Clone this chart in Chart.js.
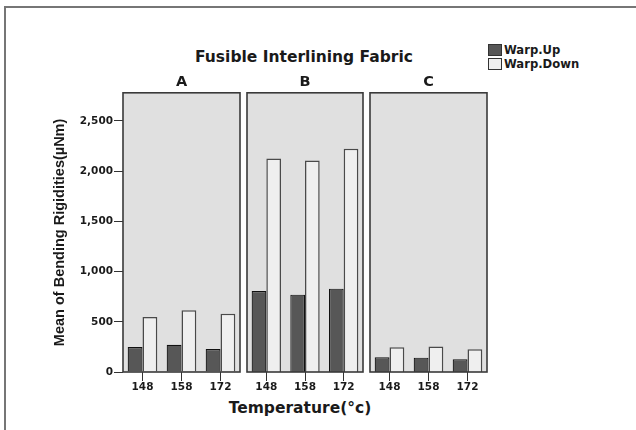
<!DOCTYPE html>
<html><head><meta charset="utf-8">
<script src="https://cdn.jsdelivr.net/npm/chart.js@4.4.0/dist/chart.umd.min.js"></script>
<style>
html,body{margin:0;padding:0;background:#fff;}
body{width:636px;height:430px;position:relative;overflow:hidden;}
.frame{position:absolute;left:4px;top:6px;width:700px;height:500px;border-top:2px solid #767676;border-left:2px solid #767676;}
canvas{position:absolute;top:0;}
.txt{position:absolute;font-family:"DejaVu Sans";font-weight:bold;color:#1a1a1a;white-space:nowrap;}
#title{left:104px;width:400px;top:47px;height:20px;line-height:20px;text-align:center;font-size:15.5px;}
#xtitle{left:100px;width:400px;top:398px;height:20px;line-height:20px;text-align:center;font-size:15.5px;}
.lg{position:absolute;left:488px;width:12px;height:10px;border:1px solid #333;}
.lgt{left:504px;font-size:11.6px;height:14px;line-height:14px;}
</style>
</head><body>
<div class="frame"></div>
<div id="title" class="txt">Fusible Interlining Fabric</div>
<div id="xtitle" class="txt">Temperature(°c)</div>
<div class="lg" style="top:44px;background:#575757;"></div>
<div class="lgt txt" style="top:43px;">Warp.Up</div>
<div class="lg" style="top:58px;background:#efefef;"></div>
<div class="lgt txt" style="top:57px;">Warp.Down</div>
<canvas id="cA" width="241" height="430" style="left:1px"></canvas>
<canvas id="cB" width="122" height="430" style="left:244px"></canvas>
<canvas id="cC" width="123" height="430" style="left:367px"></canvas>
<script>
const temps = ['148', '158', '172'];
const panels = ['A', 'B', 'C'];
const seriesNames = ['Warp.Up', 'Warp.Down'];
const warpUpA = [249, 272, 229];
const warpDownA = [548, 614, 581];
const warpUpB = [807, 770, 830];
const warpDownB = [2125, 2105, 2224];
const warpUpC = [146, 143, 126];
const warpDownC = [246, 253, 226];
const yTicks = [0, 500, 1000, 1500, 2000, 2500];
const yMax = 2780;
const yTitle = 'Mean of Bending Rigidities(µNm)';

const panelBg = {
  id: 'panelBg',
  beforeDatasetsDraw(chart) {
    const {ctx, chartArea: a} = chart;
    ctx.save();
    ctx.fillStyle = '#e0e0e0';
    ctx.fillRect(a.left, a.top, a.right - a.left, a.bottom - a.top);
    ctx.restore();
  },
  afterDatasetsDraw(chart) {
    const {ctx, chartArea: a} = chart;
    ctx.save();
    ctx.strokeStyle = '#3a3a3a';
    ctx.lineWidth = 1.6;
    ctx.strokeRect(a.left, a.top, a.right - a.left, a.bottom - a.top);
    ctx.restore();
  }
};

const tickFont = {family: 'DejaVu Sans', weight: 'bold', size: 10.5};

function makeChart(id, label, up, down, showY, padL, padR) {
  return new Chart(document.getElementById(id), {
    type: 'bar',
    data: {
      labels: temps,
      datasets: [
        {label: seriesNames[0], data: up, backgroundColor: '#575757', borderColor: '#111', borderWidth: 1.2,
         categoryPercentage: 0.76, barPercentage: 1.0},
        {label: seriesNames[1], data: down, backgroundColor: '#efefef', borderColor: '#4a4a4a', borderWidth: 1.5,
         categoryPercentage: 0.76, barPercentage: 1.0}
      ]
    },
    options: {
      responsive: false,
      animation: false,
      layout: {padding: {left: padL, right: padR, top: 0, bottom: 0}},
      plugins: {
        legend: {display: false},
        tooltip: {enabled: false},
        title: {
          display: true, text: label, fullSize: false, color: '#1a1a1a',
          font: {family: 'DejaVu Sans', weight: 'bold', size: 14.5, lineHeight: 1.2},
          padding: {top: 74, bottom: 1.4}
        }
      },
      scales: {
        x: {
          offset: true,
          grid: {offset: false, drawOnChartArea: false, drawTicks: true, tickLength: 9, color: '#333', lineWidth: 1},
          border: {display: false},
          ticks: {font: tickFont, color: '#1a1a1a', padding: 0, maxRotation: 0, autoSkip: false},
          afterFit(s) { s.height = 58; }
        },
        y: {
          display: showY,
          min: 0, max: yMax,
          grid: {drawOnChartArea: false, drawTicks: true, tickLength: 9, color: '#333', lineWidth: 1},
          border: {display: false},
          ticks: {font: tickFont, color: '#1a1a1a', padding: 1},
          afterBuildTicks(s) { s.ticks = yTicks.map(v => ({value: v})); },
          title: {
            display: showY, text: yTitle, color: '#1a1a1a',
            font: {family: 'Liberation Sans', weight: 'bold', size: 14.5, lineHeight: 1.2},
            padding: {top: 50, bottom: 0}
          },
          afterFit(s) { if (showY) s.width = 122; }
        }
      }
    },
    plugins: [panelBg]
  });
}

makeChart('cA', panels[0], warpUpA, warpDownA, true, 0, 2);
makeChart('cB', panels[1], warpUpB, warpDownB, false, 3, 3);
makeChart('cC', panels[2], warpUpC, warpDownC, false, 3, 3);
</script>
</body></html>
